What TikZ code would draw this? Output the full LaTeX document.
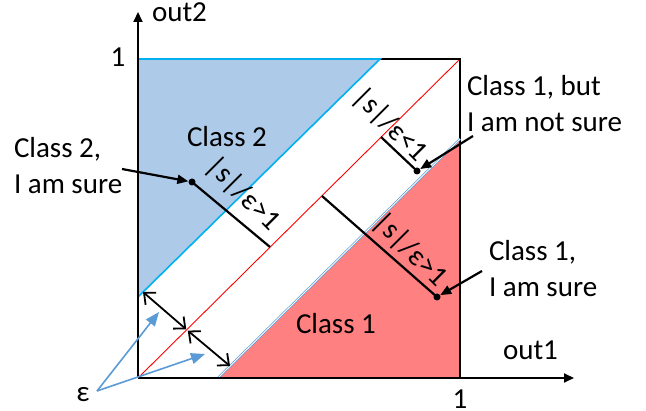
\documentclass[tikz,border=0pt]{standalone}
\usepackage{fontspec}
\setmainfont{Carlito}
\usetikzlibrary{arrows.meta}
\definecolor{bfill}{RGB}{173,203,233}
\definecolor{rfill}{RGB}{255,128,128}
\definecolor{cyanline}{RGB}{0,176,240}
\definecolor{epsblue}{RGB}{91,155,213}
\begin{document}
\begin{tikzpicture}[x=1pt,y=-1pt,
 lbl/.style={font=\fontsize{29}{36}\selectfont, inner sep=0pt, outer sep=0pt},
 rlbl/.style={lbl, rotate=-45},
 axis/.style={line width=1.8pt, -{Triangle[length=10pt,width=9pt]}},
 meas/.style={line width=2.2pt},
 ptr/.style={line width=2.2pt, -{Triangle[length=11pt,width=9pt]}},
 dar/.style={line width=1.8pt, {Straight Barb[length=9pt,width=16pt]}-{Straight Barb[length=9pt,width=16pt]}},
 earrow/.style={epsblue, line width=1.6pt, -{Triangle[length=14pt,width=11pt]}},
 dotn/.style={circle, fill=black, inner sep=0pt, minimum size=7pt},
]
\useasboundingbox (0,0) rectangle (646,411);
% corners
\coordinate (O) at (138,378);
\coordinate (TL) at (138,59);
\coordinate (TR) at (460,59);
\coordinate (BR) at (460,378);
\coordinate (B1) at (380,59);
\coordinate (B2) at (138,297);
\coordinate (R1) at (218,378);
\coordinate (R2) at (460,139);
\coordinate (YT) at (138,12);
\coordinate (XT) at (574,378);
% regions
\fill[bfill] (TL) -- (B1) -- (B2) -- cycle;
\fill[rfill] (R1) -- (BR) -- (R2) -- cycle;
\draw[red, line width=0.9pt] (O) -- (TR);
\draw[line width=1.5pt] (TL) -- (TR) -- (BR);
\draw[cyanline, line width=1.6pt] (TL) -- (B1) -- (B2);
\draw[epsblue, double=white, double distance=0.9pt, line width=0.7pt] (R1) -- (R2);
\draw[axis] (O) -- (YT);
\draw[axis] (O) -- (XT);
% axis labels
\node[lbl, anchor=base west] (out2) at (152,22) {out2};
\node[lbl, anchor=base west] (out1) at (503,360) {out1};
\node[lbl, anchor=base] (one2) at (118,67) {1};
\node[lbl, anchor=base] (one1) at (460,409) {1};
% region labels
\node[lbl, anchor=base west] (c2) at (187,147) {Class 2};
\node[lbl, anchor=base west] (c1) at (296,334) {Class 1};
\node[lbl, align=left, anchor=base west] (c2s) at (14,194) {Class 2,\\I am sure};
\node[lbl, align=left, anchor=base west] (c1n) at (467,132) {Class 1, but\\I am not sure};
\node[lbl, align=left, anchor=base west] (c1s) at (489,297) {Class 1,\\I am sure};
% measurement lines
\node[dotn] (dA) at (192,182) {};
\coordinate (eA) at (270,247);
\draw[meas] (dA.center) -- (eA);
\node[rlbl] (lA) at (243,194) {|s|/ε>1};
\node[dotn] (dB) at (417,171) {};
\coordinate (eB) at (381,137);
\draw[meas] (dB.center) -- (eB);
\node[rlbl] (lB) at (390,125) {|s|/ε<1};
\node[dotn] (dC) at (437,297) {};
\coordinate (eC) at (322,196);
\draw[meas] (dC.center) -- (eC);
\node[rlbl] (lC) at (410,250) {|s|/ε>1};
% pointers
\coordinate (pA) at (122,169);
\coordinate (pB) at (473,136);
\coordinate (pC) at (482,271);
\draw[ptr] (pA) -- (dA);
\draw[ptr] (pB) -- (dB);
\draw[ptr] (pC) -- (dC);
% epsilon double arrows
\coordinate (dU) at (143,292);
\coordinate (dM) at (187,330);
\coordinate (dL) at (230,366);
\draw[dar, shorten >=1pt] (dU) -- (dM);
\draw[dar, shorten <=1pt] (dM) -- (dL);
% epsilon label and arrows
\node[lbl, anchor=base] (eps) at (83,402) {ε};
\coordinate (eS) at (97,391);
\coordinate (eT1) at (159,312);
\coordinate (eT2) at (205,354);
\draw[earrow] (eS) -- (eT1);
\draw[earrow] (eS) -- (eT2);
\end{tikzpicture}
\end{document}
